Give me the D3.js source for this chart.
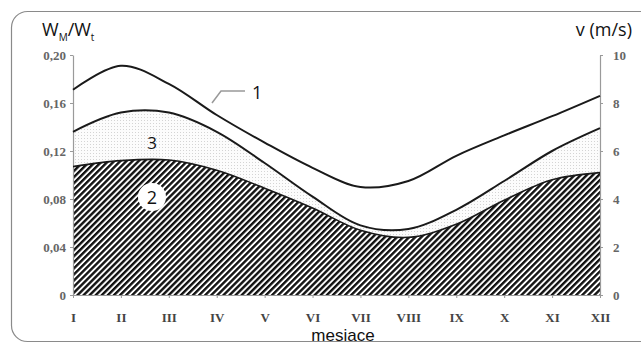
<!DOCTYPE html>
<html>
<head>
<meta charset="utf-8">
<script src="https://cdn.jsdelivr.net/npm/d3@7"></script>
<style>
  html, body { margin: 0; padding: 0; background: #fff; }
  svg { display: block; }
</style>
</head>
<body>
<div id="chart"></div>
<script>
// months on the x axis
const months = ['I', 'II', 'III', 'IV', 'V', 'VI', 'VII', 'VIII', 'IX', 'X', 'XI', 'XII'];
// curve 1: wind speed v (m/s), right axis
const windSpeed = [8.55, 9.55, 8.8, 7.5, 6.35, 5.3, 4.5, 4.75, 5.8, 6.65, 7.45, 8.3];
// curve 3: upper line of the dotted band (W_M/W_t)
const ratioUpper = [0.136, 0.152, 0.152, 0.136, 0.110, 0.082, 0.058, 0.055, 0.071, 0.095, 0.120, 0.139];
// curve 2: hatched area (W_M/W_t)
const ratioHatched = [0.107, 0.112, 0.1125, 0.104, 0.089, 0.0725, 0.054, 0.048, 0.059, 0.079, 0.096, 0.102];
// tick labels
const leftTicks = [0, 0.04, 0.08, 0.12, 0.16, 0.20];
const leftTickLabels = ['0', '0,04', '0,08', '0,12', '0,16', '0,20'];
const rightTicks = [0, 2, 4, 6, 8, 10];

const WIDTH = 641;
const HEIGHT = 345;
const X0 = 73, X1 = 600, Y0 = 295, Y1 = 55;

const svg = d3
  .select('#chart')
  .append('svg')
  .attr('width', WIDTH)
  .attr('height', HEIGHT);

// frame
svg.append('rect')
  .attr('x', 11.5).attr('y', 11.5)
  .attr('width', 680).attr('height', 330)
  .attr('rx', 16)
  .attr('fill', '#fff')
  .attr('stroke', '#8a8a8a')
  .attr('stroke-width', 1.2);

const defs = svg.append('defs');
const hatch = defs.append('pattern')
  .attr('id', 'hatch')
  .attr('patternUnits', 'userSpaceOnUse')
  .attr('width', 4.3).attr('height', 10)
  .attr('patternTransform', 'rotate(45)');
hatch.append('rect').attr('width', 4.3).attr('height', 10).attr('fill', '#fff');
hatch.append('rect').attr('width', 2.4).attr('height', 10).attr('fill', '#111');

const dots = defs.append('pattern')
  .attr('id', 'dots')
  .attr('patternUnits', 'userSpaceOnUse')
  .attr('width', 3).attr('height', 3);
dots.append('rect').attr('width', 3).attr('height', 3).attr('fill', '#fcfcfc');
dots.append('rect').attr('width', 1).attr('height', 1).attr('fill', '#d4d4d4');

// scales
const x = d3.scalePoint().domain(months).range([X0, X1]);
const yLeft = d3.scaleLinear().domain([0, 0.2]).range([Y0, Y1]);
const yRight = d3.scaleLinear().domain([0, 10]).range([Y0, Y1]);

const curve = d3.curveCatmullRom.alpha(0.5);

// dotted band (3)
svg.append('path')
  .datum(months)
  .attr('fill', 'url(#dots)')
  .attr('d', d3.area()
    .x((d) => x(d))
    .y0((d, i) => yLeft(ratioHatched[i]))
    .y1((d, i) => yLeft(ratioUpper[i]))
    .curve(curve));

// hatched area (2)
svg.append('path')
  .datum(months)
  .attr('fill', 'url(#hatch)')
  .attr('d', d3.area()
    .x((d) => x(d))
    .y0(Y0)
    .y1((d, i) => yLeft(ratioHatched[i]))
    .curve(curve));

// axes
const axisStyle = (g) => {
  g.selectAll('.domain').attr('stroke', '#9a9a9a').attr('stroke-width', 1.2);
  g.selectAll('.tick line').attr('stroke', '#9a9a9a');
  g.selectAll('.tick text')
    .attr('fill', '#666')
    .style('font-family', '"Liberation Serif", serif')
    .style('font-weight', 'bold')
    .style('font-size', '13px');
};

svg.append('g')
  .attr('transform', `translate(${X0},0)`)
  .call(d3.axisLeft(yLeft).tickValues(leftTicks)
    .tickFormat((d, i) => leftTickLabels[i])
    .tickSize(3).tickSizeOuter(0).tickPadding(4))
  .call(axisStyle);

svg.append('g')
  .attr('transform', `translate(${X1},0)`)
  .call(d3.axisRight(yRight).tickValues(rightTicks)
    .tickSize(3).tickSizeOuter(0).tickPadding(10))
  .call(axisStyle);

svg.append('g')
  .attr('transform', `translate(0,${Y0})`)
  .call(d3.axisBottom(x).tickSize(3).tickSizeOuter(0).tickPadding(15))
  .call(axisStyle)
  .call((g) => g.selectAll('.tick text').attr('fill', '#444'));

// lines
const lineLeft = (arr) => d3.line()
  .x((d) => x(d))
  .y((d, i) => yLeft(arr[i]))
  .curve(curve);

svg.append('path')
  .datum(months)
  .attr('fill', 'none')
  .attr('stroke', '#1a1a1a')
  .attr('stroke-width', 1.6)
  .attr('d', lineLeft(ratioHatched));

svg.append('path')
  .datum(months)
  .attr('fill', 'none')
  .attr('stroke', '#1a1a1a')
  .attr('stroke-width', 2)
  .attr('d', lineLeft(ratioUpper));

svg.append('path')
  .datum(months)
  .attr('fill', 'none')
  .attr('stroke', '#1a1a1a')
  .attr('stroke-width', 2)
  .attr('d', d3.line()
    .x((d) => x(d))
    .y((d, i) => yRight(windSpeed[i]))
    .curve(curve));

// curve labels
svg.append('path')
  .attr('d', 'M212,103 L221,91 L245,91')
  .attr('fill', 'none')
  .attr('stroke', '#999')
  .attr('stroke-width', 1.5);

const labelFont = '"Open Sans", sans-serif';
svg.append('text')
  .attr('x', 252).attr('y', 99)
  .style('font-family', labelFont).style('font-size', '18px')
  .attr('fill', '#111')
  .text('1');

svg.append('text')
  .attr('x', 152).attr('y', 149)
  .attr('text-anchor', 'middle')
  .style('font-family', labelFont).style('font-size', '17px')
  .attr('fill', '#111')
  .text('3');

svg.append('circle')
  .attr('cx', 152).attr('cy', 197).attr('r', 14)
  .attr('fill', '#fff');
svg.append('text')
  .attr('x', 152).attr('y', 203.5)
  .attr('text-anchor', 'middle')
  .style('font-family', labelFont).style('font-size', '18px')
  .attr('fill', '#111')
  .text('2');

// axis titles
const tLeft = svg.append('text')
  .attr('x', 42).attr('y', 36)
  .style('font-family', labelFont).style('font-size', '18px')
  .attr('fill', '#111');
tLeft.append('tspan').text('W');
tLeft.append('tspan').attr('dy', 5).style('font-size', '10px').text('M');
tLeft.append('tspan').attr('dy', -5).text('/W');
tLeft.append('tspan').attr('dy', 5).style('font-size', '10px').text('t');

svg.append('text')
  .attr('x', 632).attr('y', 36)
  .attr('text-anchor', 'end')
  .style('font-family', labelFont).style('font-size', '18px')
  .attr('fill', '#111')
  .text('v (m/s)');

svg.append('text')
  .attr('x', 343).attr('y', 341)
  .attr('text-anchor', 'middle')
  .style('font-family', '"Liberation Sans", sans-serif').style('font-size', '17px')
  .attr('fill', '#111')
  .text('mesiace');
</script>
</body>
</html>
